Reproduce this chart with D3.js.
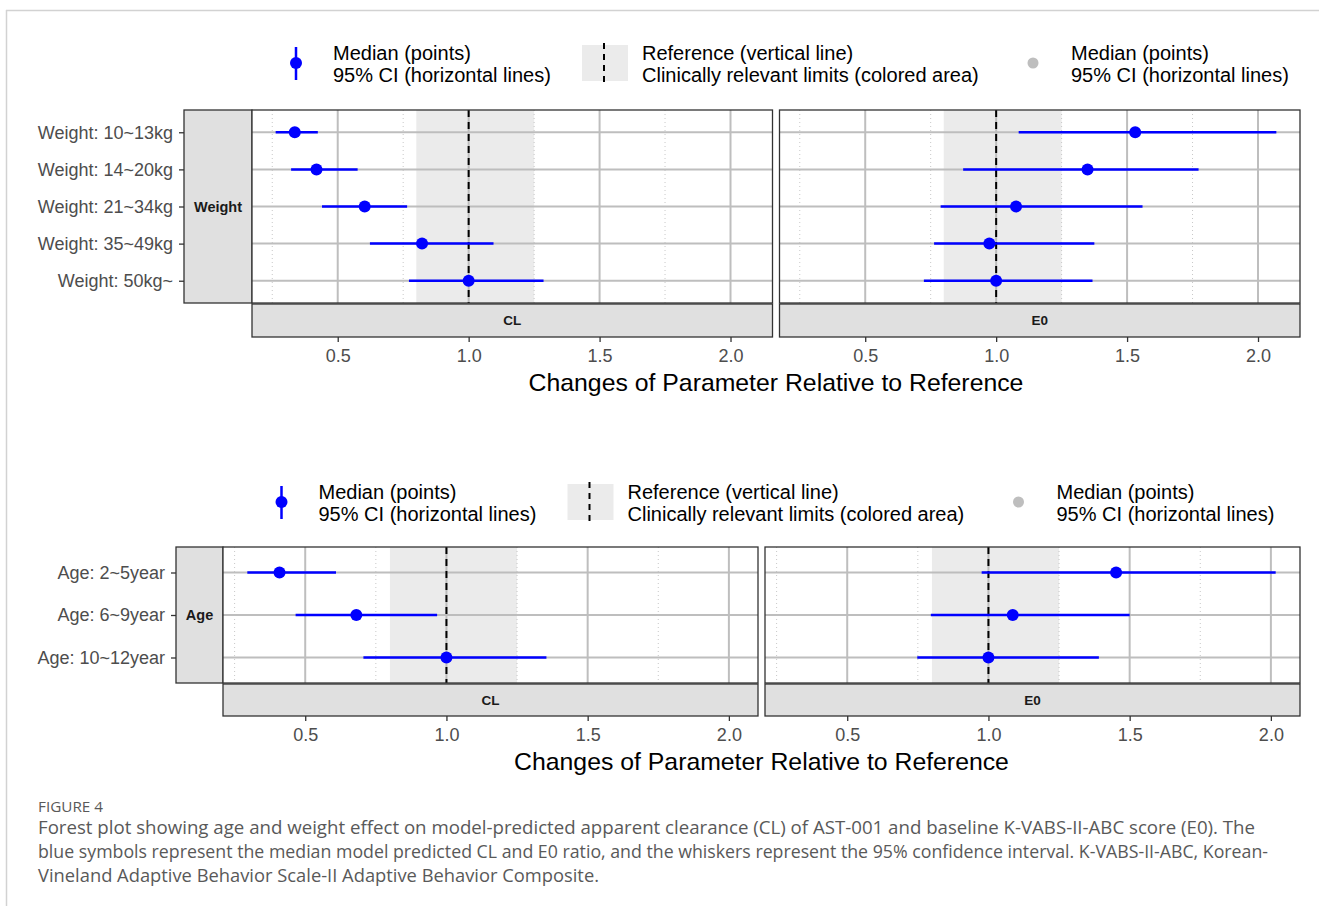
<!DOCTYPE html>
<html>
<head>
<meta charset="utf-8">
<script src="https://cdn.jsdelivr.net/npm/d3@7"></script>
<style>
body { margin: 0; background: #fff; }
svg { display: block; font-family: "Liberation Sans", Arial, sans-serif; }
</style>
</head>
<body>
<svg width="1319" height="906"></svg>
<script>
// values (ratio to reference)
var weightLevels = ["Weight: 10~13kg", "Weight: 14~20kg", "Weight: 21~34kg", "Weight: 35~49kg", "Weight: 50kg~"];
var weightCL_med = [0.336, 0.419, 0.603, 0.822, 1.000];
var weightCL_lo  = [0.263, 0.322, 0.440, 0.623, 0.772];
var weightCL_hi  = [0.424, 0.576, 0.765, 1.095, 1.286];
var weightE0_med = [1.531, 1.349, 1.076, 0.974, 1.000];
var weightE0_lo  = [1.086, 0.874, 0.788, 0.763, 0.724];
var weightE0_hi  = [2.070, 1.773, 1.559, 1.375, 1.368];

var ageLevels = ["Age: 2~5year", "Age: 6~9year", "Age: 10~12year"];
var ageCL_med = [0.409, 0.681, 1.000];
var ageCL_lo  = [0.295, 0.466, 0.706];
var ageCL_hi  = [0.609, 0.967, 1.354];
var ageE0_med = [1.452, 1.086, 1.000];
var ageE0_lo  = [0.976, 0.796, 0.748];
var ageE0_hi  = [2.017, 1.500, 1.391];

var xTicks = [0.5, 1.0, 1.5, 2.0];
var xMinor = [0.25, 0.75, 1.25, 1.75];
var refValue = 1;
var refLimits = [0.8, 1.25];
var panelNames = ["CL", "E0"];

var legendText = [
  ["Median (points)", "95% CI (horizontal lines)"],
  ["Reference (vertical line)", "Clinically relevant limits (colored area)"],
  ["Median (points)", "95% CI (horizontal lines)"]
];
var axisTitle = "Changes of Parameter Relative to Reference";
var captionHead = "FIGURE 4";
var captionLines = [
  "Forest plot showing age and weight effect on model-predicted apparent clearance (CL) of AST-001 and baseline K-VABS-II-ABC score (E0). The",
  "blue symbols represent the median model predicted CL and E0 ratio, and the whiskers represent the 95% confidence interval. K-VABS-II-ABC, Korean-",
  "Vineland Adaptive Behavior Scale-II Adaptive Behavior Composite."
];
var captionWidths = [1217, 1230, 561];

var svg = d3.select("svg");

// page frame lines
svg.append("line").attr("x1", 6).attr("x2", 1319).attr("y1", 10.5).attr("y2", 10.5)
  .attr("stroke", "#d2d2d2").attr("stroke-width", 1.5);
svg.append("line").attr("x1", 6.5).attr("x2", 6.5).attr("y1", 10).attr("y2", 906)
  .attr("stroke", "#d2d2d2").attr("stroke-width", 1.5);

function zipRows(levels, med, lo, hi) {
  return levels.map(function(l, i) { return {level: l, med: med[i], lo: lo[i], hi: hi[i]}; });
}

function drawBlock(o) {
  var g = svg.append("g");
  var all = o.panels.reduce(function(a, p) { return a.concat(p.rows.map(function(r) { return r.lo; }), p.rows.map(function(r) { return r.hi; })); }, []);
  var ext = d3.extent(all), pad = (ext[1] - ext[0]) * 0.05;
  var dom = [ext[0] - pad, ext[1] + pad];

  var y = d3.scalePoint().domain(o.levels).range([o.top, o.top + o.panelH]).padding(0.6);
  var bottom = o.top + o.panelH;
  var cx = o.panelX + o.panelW + o.gap / 2;

  // legend
  var ly = o.legendY;
  g.append("line").attr("x1", cx - 480).attr("x2", cx - 480).attr("y1", ly - 16).attr("y2", ly + 17)
    .attr("stroke", "#0000ff").attr("stroke-width", 2.5);
  g.append("circle").attr("cx", cx - 480).attr("cy", ly).attr("r", 6).attr("fill", "#0000ff");
  g.append("rect").attr("x", cx - 194).attr("y", ly - 18).attr("width", 46).attr("height", 36).attr("fill", "#ebebeb");
  g.append("line").attr("x1", cx - 172).attr("x2", cx - 172).attr("y1", ly - 20).attr("y2", ly + 21)
    .attr("stroke", "#000").attr("stroke-width", 2).attr("stroke-dasharray", "6,5");
  g.append("circle").attr("cx", cx + 257).attr("cy", ly).attr("r", 5.5).attr("fill", "#bebebe");
  [cx - 443, cx - 134, cx + 295].forEach(function(tx, k) {
    legendText[k].forEach(function(t, j) {
      g.append("text").attr("x", tx).attr("y", ly - 3 + j * 22).attr("font-size", 20).attr("fill", "#000").text(t);
    });
  });

  // left strip
  g.append("rect").attr("x", o.stripX).attr("y", o.top).attr("width", o.panelX - o.stripX).attr("height", o.panelH)
    .attr("fill", "#e0e0e0").attr("stroke", "#333").attr("stroke-width", 1.3);
  g.append("text").attr("x", (o.stripX + o.panelX) / 2).attr("y", o.top + o.panelH / 2).attr("dy", "0.35em")
    .attr("text-anchor", "middle").attr("font-size", 14.5).attr("font-weight", "bold").attr("fill", "#1a1a1a").text(o.stripLabel);

  // y axis
  var ya = g.append("g").attr("transform", "translate(" + o.stripX + ",0)")
    .call(d3.axisLeft(y).tickSize(5).tickPadding(6));
  ya.attr("font-family", null).attr("font-size", null);
  ya.select(".domain").remove();
  ya.selectAll("line").attr("stroke", "#333").attr("stroke-width", 1.3);
  ya.selectAll("text").attr("font-size", 18).attr("fill", "#4d4d4d");

  o.panels.forEach(function(p, i) {
    var px = o.panelX + i * (o.panelW + o.gap);
    var x = d3.scaleLinear().domain(dom).range([px, px + o.panelW]);
    var pg = g.append("g");

    pg.append("rect").attr("x", px).attr("y", o.top).attr("width", o.panelW).attr("height", o.panelH).attr("fill", "#fff");
    pg.selectAll(".minor").data(xMinor).enter().append("line")
      .attr("x1", x).attr("x2", x).attr("y1", o.top).attr("y2", bottom)
      .attr("stroke", "#c8c8c8").attr("stroke-width", 1).attr("stroke-dasharray", "1,3");
    pg.selectAll(".majx").data(xTicks).enter().append("line")
      .attr("x1", x).attr("x2", x).attr("y1", o.top).attr("y2", bottom)
      .attr("stroke", "#bebebe").attr("stroke-width", 2);
    pg.selectAll(".majy").data(o.levels).enter().append("line")
      .attr("x1", px).attr("x2", px + o.panelW).attr("y1", y).attr("y2", y)
      .attr("stroke", "#bebebe").attr("stroke-width", 2);

    // clinically relevant limits + reference
    pg.append("rect").attr("x", x(refLimits[0])).attr("y", o.top)
      .attr("width", x(refLimits[1]) - x(refLimits[0])).attr("height", o.panelH)
      .attr("fill", "#bdbdbd").attr("fill-opacity", 0.3);
    pg.append("line").attr("x1", x(refValue)).attr("x2", x(refValue)).attr("y1", o.top).attr("y2", bottom)
      .attr("stroke", "#000").attr("stroke-width", 2).attr("stroke-dasharray", "7,5");

    // point ranges
    pg.selectAll(".ci").data(p.rows).enter().append("line")
      .attr("x1", function(d) { return x(d.lo); }).attr("x2", function(d) { return x(d.hi); })
      .attr("y1", function(d) { return y(d.level); }).attr("y2", function(d) { return y(d.level); })
      .attr("stroke", "#0000ff").attr("stroke-width", 2.5);
    pg.selectAll(".pt").data(p.rows).enter().append("circle")
      .attr("cx", function(d) { return x(d.med); }).attr("cy", function(d) { return y(d.level); })
      .attr("r", 6).attr("fill", "#0000ff");

    pg.append("rect").attr("x", px).attr("y", o.top).attr("width", o.panelW).attr("height", o.panelH)
      .attr("fill", "none").attr("stroke", "#333").attr("stroke-width", 1.3);

    // bottom strip
    pg.append("rect").attr("x", px).attr("y", bottom + 1).attr("width", o.panelW).attr("height", o.stripH)
      .attr("fill", "#e0e0e0").attr("stroke", "#333").attr("stroke-width", 1.3);
    pg.append("text").attr("x", px + o.panelW / 2).attr("y", bottom + 1 + o.stripH / 2).attr("dy", "0.35em")
      .attr("text-anchor", "middle").attr("font-size", 13.5).attr("font-weight", "bold").attr("fill", "#1a1a1a").text(p.name);

    // x axis
    var xa = pg.append("g").attr("transform", "translate(0," + (bottom + 1 + o.stripH) + ")")
      .call(d3.axisBottom(x).tickValues(xTicks).tickFormat(d3.format(".1f")).tickSize(5).tickPadding(7));
    xa.attr("font-family", null).attr("font-size", null);
    xa.select(".domain").remove();
    xa.selectAll("line").attr("stroke", "#333").attr("stroke-width", 1.3);
    xa.selectAll("text").attr("font-size", 18).attr("fill", "#4d4d4d");
  });

  g.append("text").attr("x", cx).attr("y", bottom + 1 + o.stripH + 54).attr("text-anchor", "middle")
    .attr("font-size", 24.8).attr("fill", "#000").text(axisTitle);
}

drawBlock({
  levels: weightLevels, stripLabel: "Weight",
  panels: [
    {name: panelNames[0], rows: zipRows(weightLevels, weightCL_med, weightCL_lo, weightCL_hi)},
    {name: panelNames[1], rows: zipRows(weightLevels, weightE0_med, weightE0_lo, weightE0_hi)}
  ],
  stripX: 184, panelX: 252, panelW: 520.5, gap: 7, top: 110, panelH: 193, stripH: 33, legendY: 63
});

drawBlock({
  levels: ageLevels, stripLabel: "Age",
  panels: [
    {name: panelNames[0], rows: zipRows(ageLevels, ageCL_med, ageCL_lo, ageCL_hi)},
    {name: panelNames[1], rows: zipRows(ageLevels, ageE0_med, ageE0_lo, ageE0_hi)}
  ],
  stripX: 176, panelX: 223, panelW: 535, gap: 7, top: 547, panelH: 136, stripH: 32, legendY: 502
});

// caption
var cap = svg.append("g").attr("font-family", "'Open Sans', 'Noto Sans', sans-serif").attr("fill", "#595959");
cap.append("text").attr("x", 38).attr("y", 812).attr("font-size", 14).attr("textLength", 65)
  .attr("lengthAdjust", "spacingAndGlyphs").text(captionHead);
cap.selectAll(".cl").data(captionLines).enter().append("text")
  .attr("x", 38).attr("y", function(d, i) { return 834 + i * 24; })
  .attr("font-size", 17.5)
  .attr("textLength", function(d, i) { return captionWidths[i]; })
  .attr("lengthAdjust", "spacingAndGlyphs")
  .text(function(d) { return d; });
</script>
</body>
</html>
